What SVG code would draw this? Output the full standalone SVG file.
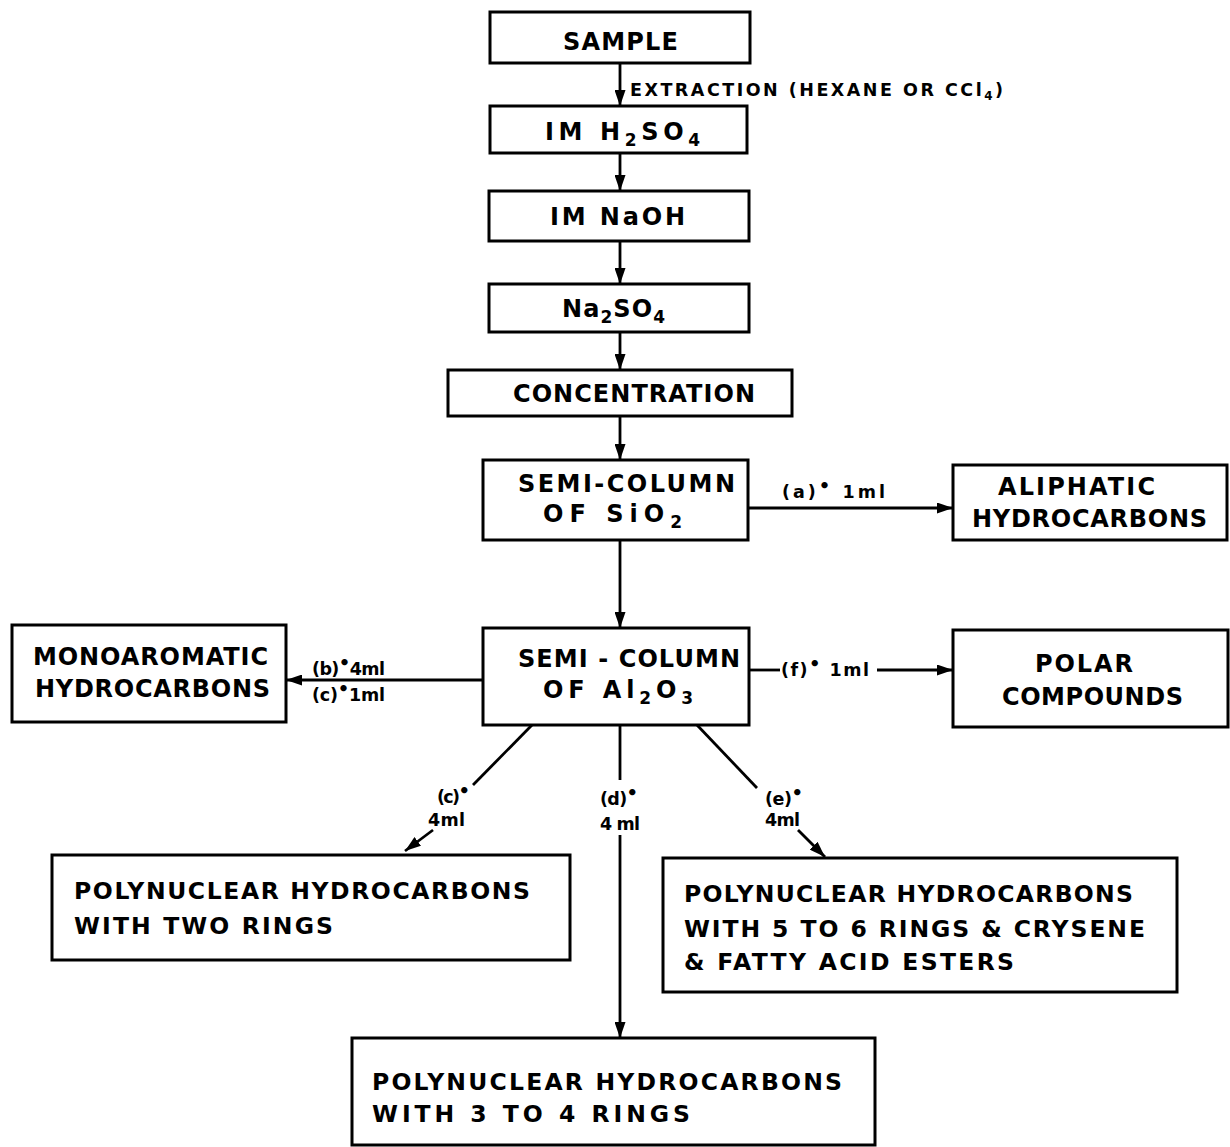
<svg xmlns="http://www.w3.org/2000/svg" width="1230" height="1147" viewBox="0 0 1230 1147">
<style>
.box{fill:#fff;stroke:#000;stroke-width:3}
.t{font-family:"DejaVu Sans","Liberation Sans",Arial,sans-serif;font-weight:bold;fill:#000}
.big{font-size:24px}
.mid{font-size:23.5px}
.sm{font-size:17.5px}
.conn{stroke:#000;stroke-width:2.8;fill:none}
.arr{marker-end:url(#ah)}
</style>
<defs>
<marker id="ah" viewBox="0 0 16 11" refX="16" refY="5.5" markerWidth="16" markerHeight="11" markerUnits="userSpaceOnUse" orient="auto">
<path d="M0,0 L16,5.5 L0,11 z" fill="#000"/>
</marker>
</defs>
<rect width="1230" height="1147" fill="#fff"/>
<g id="connectors">
<line class="conn arr" x1="620" y1="63" x2="620" y2="106"/>
<line class="conn arr" x1="620" y1="153" x2="620" y2="191"/>
<line class="conn arr" x1="620" y1="241" x2="620" y2="284"/>
<line class="conn arr" x1="620" y1="332" x2="620" y2="370"/>
<line class="conn arr" x1="620" y1="416" x2="620" y2="460"/>
<line class="conn arr" x1="620" y1="540" x2="620" y2="628"/>
<line class="conn arr" x1="748" y1="508" x2="953" y2="508"/>
<line class="conn arr" x1="483" y1="680" x2="286" y2="680"/>
<line class="conn" x1="749" y1="670" x2="780" y2="670"/>
<line class="conn arr" x1="877" y1="670" x2="953" y2="670"/>
<line class="conn" x1="532" y1="725" x2="473" y2="785"/>
<line class="conn arr" x1="433" y1="830" x2="405" y2="851"/>
<line class="conn" x1="620" y1="725" x2="620" y2="780"/>
<line class="conn arr" x1="620" y1="835" x2="620" y2="1038"/>
<line class="conn" x1="697" y1="725" x2="757" y2="788"/>
<line class="conn arr" x1="798" y1="830" x2="825" y2="857"/>
<text class="t" font-size="17.5" x="630" y="96" textLength="373" lengthAdjust="spacing">EXTRACTION (HEXANE OR CCl<tspan dy="4" font-size="12">4</tspan><tspan dy="-4">)</tspan></text>
<text class="t sm" x="782" y="498" textLength="103" lengthAdjust="spacing">(a)<tspan dy="-6" font-size="18">•</tspan><tspan dy="6">  1ml</tspan></text>
<text class="t sm" x="312" y="675" textLength="73" lengthAdjust="spacing">(b)<tspan dy="-6" font-size="18">•</tspan><tspan dy="6">4ml</tspan></text>
<text class="t sm" x="312" y="701" textLength="73" lengthAdjust="spacing">(c)<tspan dy="-6" font-size="18">•</tspan><tspan dy="6">1ml</tspan></text>
<text class="t sm" x="781" y="676" textLength="88" lengthAdjust="spacing">(f)<tspan dy="-6" font-size="18">•</tspan><tspan dy="6"> 1ml</tspan></text>
<text class="t sm" x="437" y="803" textLength="33" lengthAdjust="spacing">(c)<tspan dy="-6" font-size="18">•</tspan></text>
<text class="t sm" x="428" y="826" textLength="37" lengthAdjust="spacing">4ml</text>
<text class="t sm" x="600" y="805" textLength="38" lengthAdjust="spacing">(d)<tspan dy="-6" font-size="18">•</tspan></text>
<text class="t sm" x="600" y="830" textLength="40" lengthAdjust="spacing">4 ml</text>
<text class="t sm" x="765" y="805" textLength="38" lengthAdjust="spacing">(e)<tspan dy="-6" font-size="18">•</tspan></text>
<text class="t sm" x="765" y="826" textLength="35" lengthAdjust="spacing">4ml</text>
</g>
<g id="sample"><rect class="box" x="490" y="12" width="260" height="51"/><text class="t big" x="563" y="50" textLength="115" lengthAdjust="spacing">SAMPLE</text></g>
<g id="h2so4"><rect class="box" x="490" y="106" width="257" height="47"/><text class="t big" x="545" y="140" textLength="155" lengthAdjust="spacing">IM  H<tspan dy="6" font-size="17">2</tspan><tspan dy="-6">SO</tspan><tspan dy="6" font-size="17">4</tspan></text></g>
<g id="naoh"><rect class="box" x="489" y="191" width="260" height="50"/><text class="t big" x="550" y="225" textLength="135" lengthAdjust="spacing">IM  NaOH</text></g>
<g id="na2so4"><rect class="box" x="489" y="284" width="260" height="48"/><text class="t big" x="562" y="317" textLength="103" lengthAdjust="spacing">Na<tspan dy="6" font-size="17">2</tspan><tspan dy="-6">SO</tspan><tspan dy="6" font-size="17">4</tspan></text></g>
<g id="concentration"><rect class="box" x="448" y="370" width="344" height="46"/><text class="t big" x="513" y="402" textLength="242" lengthAdjust="spacing">CONCENTRATION</text></g>
<g id="sio2"><rect class="box" x="483" y="460" width="265" height="80"/><text class="t big" x="518" y="492" textLength="217" lengthAdjust="spacing">SEMI-COLUMN</text><text class="t big" x="543" y="522" textLength="139" lengthAdjust="spacing">OF  SiO<tspan dy="6" font-size="17">2</tspan></text></g>
<g id="al2o3"><rect class="box" x="483" y="628" width="266" height="97"/><text class="t big" x="518" y="667" textLength="222" lengthAdjust="spacing">SEMI - COLUMN</text><text class="t big" x="543" y="698" textLength="150" lengthAdjust="spacing">OF  Al<tspan dy="6" font-size="17">2</tspan><tspan dy="-6">O</tspan><tspan dy="6" font-size="17">3</tspan></text></g>
<g id="monoaromatic"><rect class="box" x="12" y="625" width="274" height="97"/><text class="t big" x="33" y="665" textLength="235" lengthAdjust="spacing">MONOAROMATIC</text><text class="t big" x="35" y="697" textLength="235" lengthAdjust="spacing">HYDROCARBONS</text></g>
<g id="aliphatic"><rect class="box" x="953" y="465" width="274" height="75"/><text class="t big" x="998" y="495" textLength="157" lengthAdjust="spacing">ALIPHATIC</text><text class="t big" x="972" y="527" textLength="235" lengthAdjust="spacing">HYDROCARBONS</text></g>
<g id="polar"><rect class="box" x="953" y="630" width="275" height="97"/><text class="t big" x="1035" y="672" textLength="98" lengthAdjust="spacing">POLAR</text><text class="t big" x="1002" y="705" textLength="181" lengthAdjust="spacing">COMPOUNDS</text></g>
<g id="two-rings"><rect class="box" x="52" y="855" width="518" height="105"/><text class="t mid" x="74" y="899" textLength="456" lengthAdjust="spacing">POLYNUCLEAR HYDROCARBONS</text><text class="t mid" x="74" y="934" textLength="259" lengthAdjust="spacing">WITH  TWO RINGS</text></g>
<g id="five-six-rings"><rect class="box" x="663" y="858" width="514" height="134"/><text class="t mid" x="684" y="902" textLength="449" lengthAdjust="spacing">POLYNUCLEAR HYDROCARBONS</text><text class="t mid" x="684" y="937" textLength="461" lengthAdjust="spacing">WITH 5 TO 6  RINGS &amp; CRYSENE</text><text class="t mid" x="684" y="970" textLength="330" lengthAdjust="spacing">&amp; FATTY ACID ESTERS</text></g>
<g id="three-four-rings"><rect class="box" x="352" y="1038" width="523" height="107"/><text class="t mid" x="372" y="1090" textLength="470" lengthAdjust="spacing">POLYNUCLEAR  HYDROCARBONS</text><text class="t mid" x="372" y="1122" textLength="318" lengthAdjust="spacing">WITH  3  TO  4  RINGS</text></g>
</svg>
